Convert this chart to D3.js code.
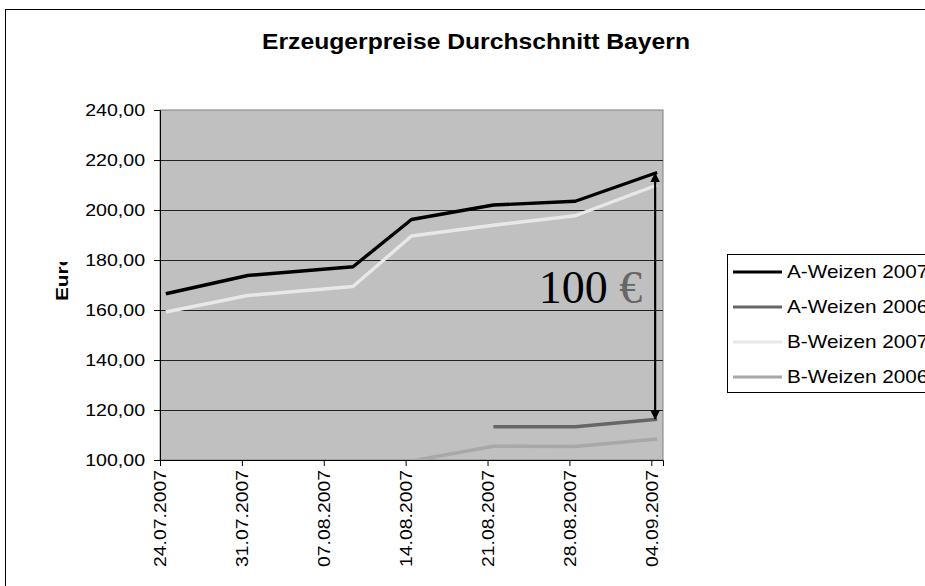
<!DOCTYPE html>
<html>
<head>
<meta charset="utf-8">
<script src="https://cdn.jsdelivr.net/npm/d3@7"></script>
<style>
  body { margin: 0; background: #fff; }
  text { font-family: "Liberation Sans", Arial, sans-serif; }
</style>
</head>
<body>
<svg width="925" height="586"></svg>
<script>
let svg = d3.select("svg");

// data
const dates = ["24.07.2007", "31.07.2007", "09.08.2007", "14.08.2007", "21.08.2007", "28.08.2007", "04.09.2007"];
const aWeizen2007 = [166.5, 173.8, 177.3, 196.2, 202.0, 203.5, 215.0];
const aWeizen2006 = [null, null, null, null, 113.3, 113.3, 116.3];
const bWeizen2007 = [159.2, 165.8, 169.4, 189.6, 193.9, 197.7, 210.0];
const bWeizen2006 = [null, null, null, 99.6, 105.5, 105.4, 108.4];
const seriesNames = ["A-Weizen 2007", "A-Weizen 2006", "B-Weizen 2007", "B-Weizen 2006"];
const seriesColors = ["#000000", "#666666", "#e8e8e8", "#a8a8a8"];
const yTicks = [100, 120, 140, 160, 180, 200, 220, 240];
const axisStart = "24.07.2007";
const axisEnd = "05.09.2007";
const spreadTop = 215, spreadBottom = 116;   // the "100 €" arrow

const parse = d3.timeParse("%d.%m.%Y");
const fmtDate = d3.timeFormat("%d.%m.%Y");
const fmtNum = d3.formatLocale({decimal: ",", thousands: ".", grouping: [3], currency: ["", "€"]}).format(".2f");

const plotLeft = 160, plotRight = 663, plotTop = 110, plotBottom = 460;

let x = d3.scaleTime()
    .domain([parse(axisStart), parse(axisEnd)])
    .range([plotLeft, plotRight]);
let y = d3.scaleLinear()
    .domain([100, 240])
    .range([plotBottom, plotTop]);

// points sit in the middle of their day
const mid = d => d3.timeHour.offset(parse(d), 12);

// stretch text a little wider, the reference font runs wide
function widen(sel, k) {
    sel.each(function() {
        let w = this.getComputedTextLength();
        this.setAttribute("textLength", w * k);
        this.setAttribute("lengthAdjust", "spacingAndGlyphs");
    });
}

// outer chart frame
svg.append("rect")
    .attr("x", 5.5).attr("y", 9.5)
    .attr("width", 1000).attr("height", 1000)
    .attr("fill", "#fff")
    .attr("stroke", "#000");

svg.append("text")
    .attr("x", 476).attr("y", 49)
    .attr("text-anchor", "middle")
    .attr("textLength", 428)
    .attr("lengthAdjust", "spacingAndGlyphs")
    .style("font-size", "22px")
    .style("font-weight", "bold")
    .text("Erzeugerpreise Durchschnitt Bayern");

// plot area
svg.append("rect")
    .attr("x", plotLeft).attr("y", plotTop)
    .attr("width", plotRight - plotLeft).attr("height", plotBottom - plotTop)
    .attr("fill", "#c0c0c0")
    .attr("stroke", "#808080");

svg.append("clipPath").attr("id", "plot")
    .append("rect")
    .attr("x", plotLeft).attr("y", plotTop)
    .attr("width", plotRight - plotLeft).attr("height", plotBottom - plotTop);

svg.append("g")
    .selectAll("line")
    .data(yTicks.slice(1, -1))
    .enter()
    .append("line")
    .attr("x1", plotLeft).attr("x2", plotRight)
    .attr("y1", d => Math.round(y(d)) + 0.5)
    .attr("y2", d => Math.round(y(d)) + 0.5)
    .attr("stroke", "#222");

// y axis
let yAxis = svg.append("g")
    .attr("transform", `translate(${plotLeft},0)`)
    .call(d3.axisLeft(y).tickValues(yTicks).tickFormat(fmtNum).tickSize(6).tickPadding(9));
yAxis.select(".domain").attr("stroke", "#000");
yAxis.selectAll("text")
    .style("font-size", "17px")
    .attr("fill", "#000")
    .call(widen, 1.15);

// x axis, one tick a week
let weekTicks = d3.timeDay.range(parse(axisStart), parse(axisEnd), 7);
let xAxis = svg.append("g")
    .attr("transform", `translate(0,${plotBottom})`)
    .call(d3.axisBottom(x).tickValues(weekTicks).tickFormat(fmtDate).tickSize(6));
xAxis.select(".domain").attr("stroke", "#000");
xAxis.selectAll("text")
    .style("font-size", "17px")
    .attr("fill", "#000")
    .attr("text-anchor", "end")
    .attr("transform", "rotate(-90)")
    .attr("x", -10).attr("y", 0).attr("dy", "0.35em")
    .call(widen, 1.14);

// y title, partly cut off as in the reference
svg.append("clipPath").attr("id", "ytitle")
    .append("rect").attr("x", 40).attr("y", 262).attr("width", 40).attr("height", 60);
svg.append("g")
    .attr("clip-path", "url(#ytitle)")
    .append("text")
    .attr("transform", "translate(68,301) rotate(-90)")
    .style("font-size", "16px")
    .style("font-weight", "bold")
    .text("Euro")
    .call(widen, 1.3);

// series lines
let allSeries = [aWeizen2007, aWeizen2006, bWeizen2007, bWeizen2006];
let line = d3.line()
    .defined(d => d.v != null)
    .x(d => x(mid(d.date)))
    .y(d => y(d.v));

// draw order so the black line sits on top
let drawOrder = [3, 1, 2, 0];
svg.append("g")
    .attr("clip-path", "url(#plot)")
    .selectAll(".series")
    .data(drawOrder)
    .enter()
    .append("path")
    .attr("class", "series")
    .attr("fill", "none")
    .attr("stroke", i => seriesColors[i])
    .attr("stroke-width", 3.4)
    .attr("stroke-linejoin", "round")
    .attr("d", i => line(allSeries[i].map((v, j) => ({date: dates[j], v: v}))));

// annotation arrow
let defs = svg.append("defs");
defs.append("marker")
    .attr("id", "head")
    .attr("viewBox", "0 0 10 10")
    .attr("refX", 9).attr("refY", 5)
    .attr("markerWidth", 4.5).attr("markerHeight", 4.5)
    .attr("orient", "auto-start-reverse")
    .append("path")
    .attr("d", "M0,0 L10,5 L0,10 z")
    .attr("fill", "#000");

let ax = x(mid(dates[dates.length - 1])) - 2;
svg.append("line")
    .attr("x1", ax).attr("x2", ax)
    .attr("y1", y(spreadBottom) - 1).attr("y2", y(spreadTop) + 1)
    .attr("stroke", "#000")
    .attr("stroke-width", 2.2)
    .attr("marker-start", "url(#head)")
    .attr("marker-end", "url(#head)");

let note = svg.append("text")
    .attr("x", ax - 13).attr("y", y(163))
    .attr("text-anchor", "end")
    .style("font-family", "'Liberation Serif', 'Times New Roman', serif")
    .style("font-size", "46px");
note.append("tspan").attr("fill", "#000").text("100 ");
note.append("tspan").attr("fill", "#666").text("€");

// legend
svg.append("rect")
    .attr("x", 727.5).attr("y", 254.5)
    .attr("width", 400).attr("height", 138)
    .attr("fill", "#fff")
    .attr("stroke", "#000");

let legend = svg.append("g")
    .selectAll(".entry")
    .data(seriesNames)
    .enter()
    .append("g")
    .attr("class", "entry")
    .attr("transform", (d, i) => `translate(733,${272 + i * 35})`);
legend.append("line")
    .attr("x1", 0).attr("x2", 49)
    .attr("stroke", (d, i) => seriesColors[i])
    .attr("stroke-width", 3.2);
legend.append("text")
    .attr("x", 54).attr("dy", "0.35em")
    .style("font-size", "18.5px")
    .text(d => d)
    .call(widen, 1.12);
</script>
</body>
</html>
